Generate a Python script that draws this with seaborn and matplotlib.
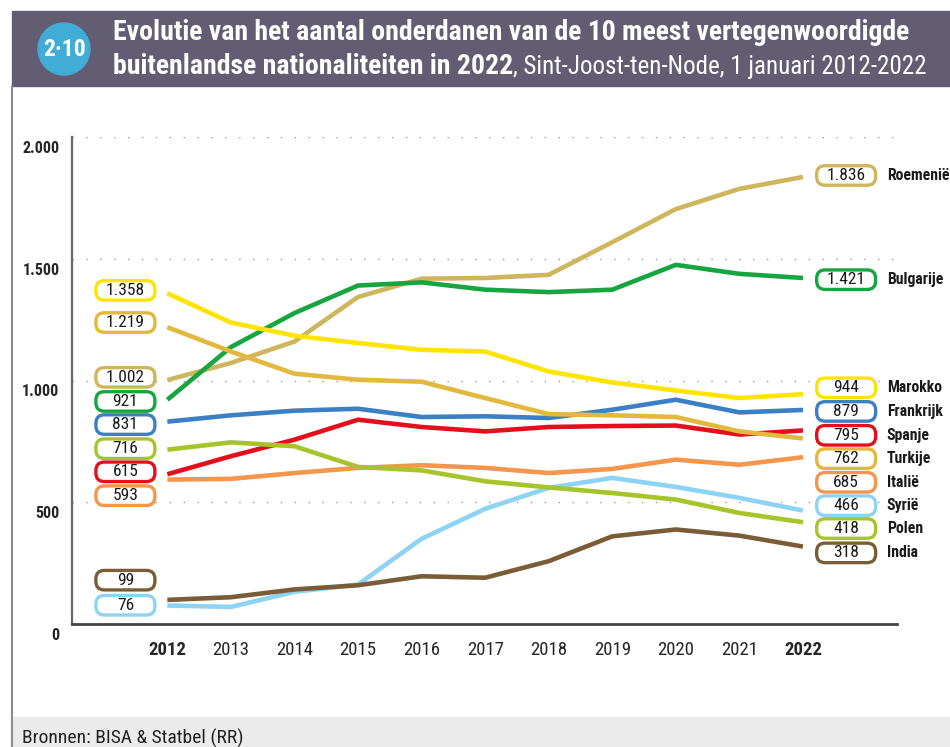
import numpy as np
import pandas as pd
import matplotlib
matplotlib.use("Agg")
import matplotlib.pyplot as plt
import matplotlib.transforms as mtransforms
from matplotlib.patches import FancyBboxPatch, Rectangle, Circle
from matplotlib.lines import Line2D
from matplotlib import font_manager
import seaborn as sns

# --- data (1 januari, 2012-2022) ---
years = list(range(2012, 2023))
countries = ["Roemenië", "Bulgarije", "Marokko", "Frankrijk", "Spanje",
             "Turkije", "Italië", "Syrië", "Polen", "India"]

roemenie = [1002, 1072, 1160, 1343, 1418, 1421, 1434, 1568, 1704, 1787, 1836]
bulgarije = [921, 1137, 1277, 1390, 1403, 1373, 1363, 1373, 1475, 1438, 1421]
marokko = [1358, 1238, 1184, 1154, 1126, 1119, 1037, 992, 959, 928, 944]
frankrijk = [831, 857, 876, 884, 850, 853, 846, 880, 921, 869, 879]
spanje = [615, 689, 757, 839, 809, 791, 809, 813, 815, 778, 795]
turkije = [1219, 1119, 1028, 1003, 995, 928, 862, 857, 850, 791, 762]
italie = [593, 596, 620, 641, 652, 641, 620, 637, 675, 654, 685]
syrie = [76, 70, 132, 162, 350, 473, 559, 600, 563, 518, 466]
polen = [716, 746, 730, 645, 631, 586, 561, 538, 511, 456, 418]
india = [99, 110, 142, 159, 196, 190, 258, 360, 388, 363, 318]

series = [roemenie, bulgarije, marokko, frankrijk, spanje,
          turkije, italie, syrie, polen, india]

colors = {
    "Roemenië": "#CDB65C",
    "Bulgarije": "#17A540",
    "Marokko": "#FFE400",
    "Frankrijk": "#3A80C3",
    "Spanje": "#E3101B",
    "Turkije": "#E2B83E",
    "Italië": "#F5964D",
    "Syrië": "#8CD3F4",
    "Polen": "#A6C52A",
    "India": "#7A5D37",
}

# label layout (data-y of the rounded value boxes, de-cluttered)
left_label_y = {"Marokko": 1370, "Turkije": 1238, "Roemenië": 1013, "Bulgarije": 914,
                "Frankrijk": 819, "Polen": 720, "Spanje": 625, "Italië": 527,
                "India": 180, "Syrië": 77}
right_label_y = {"Roemenië": 1842, "Bulgarije": 1414, "Marokko": 970, "Frankrijk": 873,
                 "Spanje": 775, "Turkije": 679, "Italië": 582, "Syrië": 486,
                 "Polen": 392, "India": 292}

rows = []
for land, vals in zip(countries, series):
    for j, v in zip(years, vals):
        rows.append({"jaar": j, "aantal": v, "land": land})
df = pd.DataFrame(rows)


def fmt(v):
    return f"{v:,}".replace(",", ".")


sns.set_style("white")

# look for a narrow/condensed family, the original uses a condensed face
fonts = font_manager.fontManager.ttflist
names = {f.name for f in fonts}
NARROW, STRETCH, SC = None, "normal", 1.0
for cand in ["Liberation Sans Narrow", "Roboto Condensed", "Open Sans Condensed",
             "Noto Sans Condensed", "DejaVu Sans Condensed", "Arial Narrow"]:
    if cand in names:
        NARROW = cand
        break
if NARROW is None:
    cond = [f for f in fonts if str(f.stretch) in ("condensed", "semi-condensed", "extra-condensed")
            or (isinstance(f.stretch, int) and f.stretch < 500)]
    if cond:
        NARROW, STRETCH = cond[0].name, "condensed"
    else:
        NARROW, SC = "Roboto", 0.86
plt.rcParams["font.family"] = [NARROW, "DejaVu Sans"]
plt.rcParams["font.stretch"] = STRETCH

W, H = 950, 747
fig = plt.figure(figsize=(W / 100, H / 100), dpi=100)


def fx(px):
    return px / W


def fy(py):
    return 1 - py / H


# header band + badge
fig.patches.append(Rectangle((fx(11.5), fy(86)), 1, (86 - 11.5) / H, transform=fig.transFigure,
                             color="#625D73", zorder=0))
fig.patches.append(Circle((0.64, (H - 49) / 100), 0.26, transform=fig.dpi_scale_trans,
                          color="#41ACD6", zorder=1))
fig.text(fx(64), fy(49), "2·10", color="white", fontsize=17 * SC, fontweight="bold",
         ha="center", va="center")
fig.text(fx(113), fy(33), "Evolutie van het aantal onderdanen van de 10 meest vertegenwoordigde",
         color="white", fontsize=20 * SC, fontweight="bold", ha="left", va="center")
t_bold = fig.text(fx(113), fy(67), "buitenlandse nationaliteiten in 2022", color="white",
                  fontsize=20 * SC, fontweight="bold", ha="left", va="center")
renderer = fig.canvas.get_renderer()
bb = t_bold.get_window_extent(renderer)
fig.text(bb.x1 / W, fy(67), ", Sint-Joost-ten-Node, 1 januari 2012-2022", color="white",
         fontsize=18 * SC, ha="left", va="center")

# frame line + footer
fig.add_artist(Line2D([fx(12), fx(12)], [fy(86), 0], color="#8C8A9A", lw=1.5))
fig.patches.append(Rectangle((fx(13), 0), 1, (H - 717) / H, transform=fig.transFigure,
                             color="#EBEBEB", zorder=0))
fig.text(fx(22), fy(738), "Bronnen: BISA & Statbel (RR)", fontsize=14 * SC, color="#222222",
         ha="left", va="center")

# chart
ax = fig.add_axes([fx(72), fy(624), (897 - 72) / W, (624 - 137) / H])
ax.set_facecolor("none")
sns.lineplot(data=df, x="jaar", y="aantal", hue="land", hue_order=countries,
             palette=colors, linewidth=3.3, legend=False, ax=ax)
for ln in ax.get_lines():
    ln.set_solid_capstyle("butt")

ax.set_xlim(2010.5, 2023.48)
ax.set_ylim(0, 2000)
ax.set_xlabel("")
ax.set_ylabel("")

ax.set_yticks([0, 500, 1000, 1500, 2000])
ax.set_yticklabels(["0", "500", "1.000", "1.500", "2.000"], fontweight="bold", fontsize=11.5 * SC)
ax.tick_params(axis="y", length=0, pad=9)
shift = mtransforms.ScaledTranslation(0, -0.10, fig.dpi_scale_trans)
for lab in ax.get_yticklabels():
    lab.set_transform(lab.get_transform() + shift)

ax.set_xticks(years)
ax.set_xticklabels([str(y) for y in years], fontsize=13.5 * SC)
for lab in ax.get_xticklabels():
    if lab.get_text() in ("2012", "2022"):
        lab.set_fontweight("bold")
ax.tick_params(axis="x", direction="in", length=8.5, width=1.1, color="#222222", pad=12)

for v in [500, 1000, 1500, 2000]:
    ax.axhline(v, color="#9A9A9A", lw=1.0, linestyle=(0, (1, 9)), zorder=0)

sns.despine(ax=ax)
ax.spines["left"].set_color("#666666")
ax.spines["left"].set_linewidth(1.6)
ax.spines["bottom"].set_color("#444444")
ax.spines["bottom"].set_linewidth(2)


def value_box(x, y, text, color):
    trans = fig.dpi_scale_trans + mtransforms.ScaledTranslation(x, y, ax.transData)
    w, h = 0.59, 0.195
    box = FancyBboxPatch((-w / 2, -h / 2), w, h, boxstyle="round,pad=0,rounding_size=0.085",
                         transform=trans, facecolor="white", edgecolor=color, lw=2.4,
                         clip_on=False, zorder=5)
    ax.add_patch(box)
    ax.text(x, y, text, ha="center", va="center", fontsize=12.5 * SC, color="#1A1A1A",
            zorder=6, clip_on=False)


LEFT_X, RIGHT_X, NAME_X = 2011.34, 2022.68, 2023.32
for land, vals in zip(countries, series):
    value_box(LEFT_X, left_label_y[land], fmt(vals[0]), colors[land])
    value_box(RIGHT_X, right_label_y[land], fmt(vals[-1]), colors[land])
    ax.text(NAME_X, right_label_y[land], land, ha="left", va="center", fontsize=11.3 * SC,
            fontweight="bold", color="#1A1A1A", clip_on=False)

fig.savefig("out.png", dpi=100)
